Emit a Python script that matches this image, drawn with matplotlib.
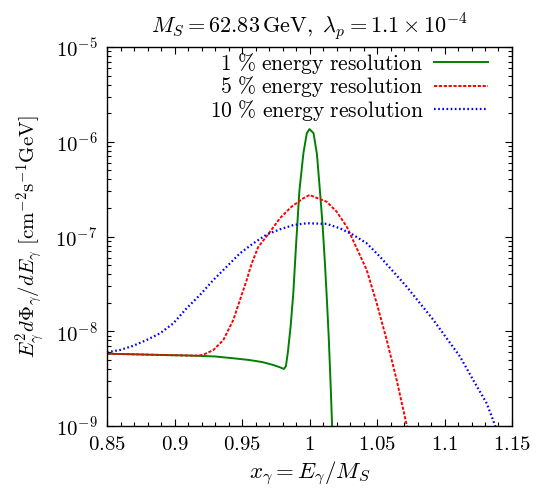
import matplotlib
matplotlib.use("Agg")
import matplotlib.pyplot as plt
from matplotlib.ticker import LogLocator, MultipleLocator, NullFormatter, FixedLocator, FixedFormatter

plt.rcParams['font.family'] = 'serif'
plt.rcParams['font.serif'] = ['cmr10']
plt.rcParams['mathtext.fontset'] = 'cm'
plt.rcParams['mathtext.default'] = 'it'
plt.rcParams['axes.formatter.use_mathtext'] = True
plt.rcParams['lines.scale_dashes'] = False

# ---- data ----
x_res1 = [0.85, 0.87, 0.89, 0.91, 0.93, 0.945, 0.955, 0.965, 0.973, 0.978, 0.981,
          0.9825, 0.984, 0.986, 0.988, 0.990, 0.9925, 0.9955, 0.998, 1.000, 1.003,
          1.0055, 1.0078, 1.0097, 1.0115, 1.0130, 1.0142, 1.0152, 1.0160, 1.0167, 1.0172]
y_res1 = [5.79e-9, 5.71e-9, 5.62e-9, 5.55e-9, 5.42e-9, 5.16e-9, 4.98e-9, 4.73e-9, 4.41e-9,
          4.17e-9, 4.00e-9, 4.27e-9, 6.03e-9, 1.12e-8, 2.51e-8, 7.94e-8, 3.02e-7, 7.59e-7,
          1.23e-6, 1.36e-6, 1.23e-6, 7.41e-7, 2.95e-7, 1.32e-7, 5.01e-8, 2.00e-8, 8.91e-9,
          3.98e-9, 2.00e-9, 1.05e-9, 7.1e-10]

x_res5 = [0.85, 0.87, 0.89, 0.905, 0.915, 0.921, 0.9288, 0.9362, 0.9436, 0.9485, 0.9535,
          0.9572, 0.9621, 0.9695, 0.9781, 0.9868, 0.9954, 1.0, 1.0127, 1.0201, 1.0276,
          1.035, 1.0424, 1.0498, 1.0572, 1.0646, 1.072, 1.074]
y_res5 = [5.79e-9, 5.71e-9, 5.62e-9, 5.56e-9, 5.52e-9, 5.62e-9, 6.34e-9, 8.09e-9, 1.32e-8,
          2.14e-8, 3.48e-8, 5.21e-8, 7.80e-8, 1.06e-7, 1.56e-7, 2.07e-7, 2.53e-7, 2.74e-7,
          2.33e-7, 1.83e-7, 1.27e-7, 7.50e-8, 4.43e-8, 1.97e-8, 8.09e-9, 3.05e-9, 1.02e-9,
          8.0e-10]

x_res10 = [0.85, 0.8596, 0.8695, 0.8794, 0.8893, 0.8991, 0.909, 0.9189, 0.9288, 0.9387,
           0.9485, 0.9584, 0.9683, 0.9781, 0.988, 0.9979, 1.0127, 1.0226, 1.0324, 1.0424,
           1.0522, 1.0621, 1.072, 1.0819, 1.0917, 1.1016, 1.1115, 1.1213, 1.1313, 1.1374, 1.139]
y_res10 = [6.00e-9, 6.34e-9, 7.03e-9, 8.09e-9, 9.51e-9, 1.21e-8, 1.75e-8, 2.42e-8, 3.48e-8,
           4.81e-8, 6.65e-8, 8.47e-8, 1.05e-7, 1.19e-7, 1.32e-7, 1.38e-7, 1.36e-7, 1.22e-7,
           1.04e-7, 8.47e-8, 6.12e-8, 4.25e-8, 2.95e-8, 1.97e-8, 1.32e-8, 8.43e-9, 5.40e-9,
           3.05e-9, 1.73e-9, 1.02e-9, 8.5e-10]

labels = [r'$\mathrm{1\ \%\ energy\ resolution}$',
          r'$\mathrm{5\ \%\ energy\ resolution}$',
          r'$\mathrm{10\ \%\ energy\ resolution}$']

xticks = [0.85, 0.9, 0.95, 1.0, 1.05, 1.1, 1.15]
xticklabels = [r'$\mathrm{0.85}$', r'$\mathrm{0.9}$', r'$\mathrm{0.95}$', r'$\mathrm{1}$',
               r'$\mathrm{1.05}$', r'$\mathrm{1.1}$', r'$\mathrm{1.15}$']
yticks = [1e-9, 1e-8, 1e-7, 1e-6, 1e-5]
yticklabels = [r'$\mathrm{10^{-9}}$', r'$\mathrm{10^{-8}}$', r'$\mathrm{10^{-7}}$',
               r'$\mathrm{10^{-6}}$', r'$\mathrm{10^{-5}}$']

fig = plt.figure(figsize=(5.54, 4.92), dpi=100)
ax = fig.add_axes([107/554, 1-426/492, 405/554, 379/492])

ax.plot(x_res1, y_res1, color='#008000', lw=1.4, label=labels[0])
ax.plot(x_res5, y_res5, color='#ff0000', lw=1.4, dashes=(2.3, 1.2), label=labels[1])
ax.plot(x_res10, y_res10, color='#0000ff', lw=1.6, dashes=(1.2, 1.8), label=labels[2])

ax.set_yscale('log')
ax.set_xlim(0.85, 1.15)
ax.set_ylim(1e-9, 1e-5)

ax.xaxis.set_major_locator(FixedLocator(xticks))
ax.xaxis.set_major_formatter(FixedFormatter(xticklabels))
ax.xaxis.set_minor_locator(MultipleLocator(0.01))
ax.yaxis.set_major_locator(FixedLocator(yticks))
ax.yaxis.set_major_formatter(FixedFormatter(yticklabels))
ax.yaxis.set_minor_locator(LogLocator(base=10, subs=range(2, 10), numticks=100))
ax.yaxis.set_minor_formatter(NullFormatter())

ax.tick_params(which='both', direction='in', top=True, right=True, labelsize=15, width=0.8)
ax.tick_params(which='major', length=5, pad=7)
ax.tick_params(which='minor', length=2.8)
for s in ax.spines.values():
    s.set_linewidth(1.0)

ax.set_xlabel(r'$x_\gamma = E_\gamma/M_S$', fontsize=16.5, labelpad=4)
ax.set_ylabel(r'$E_\gamma^2 d\Phi_\gamma/dE_\gamma\ [\mathrm{cm}^{-2}\mathrm{s}^{-1}\mathrm{GeV}]$',
              fontsize=15, labelpad=6)
ax.set_title(r'$M_S = 62.83\,\mathrm{GeV},\ \lambda_p = 1.1\times10^{-4}$', fontsize=16, pad=10)

leg = ax.legend(loc='upper right', bbox_to_anchor=((488-107)/405, (426-51)/379),
                frameon=False, markerfirst=False, fontsize=15.5, borderpad=0, borderaxespad=0,
                handlelength=2.5, handletextpad=0.5, labelspacing=-0.08)

fig.savefig('out.png', dpi=100)
